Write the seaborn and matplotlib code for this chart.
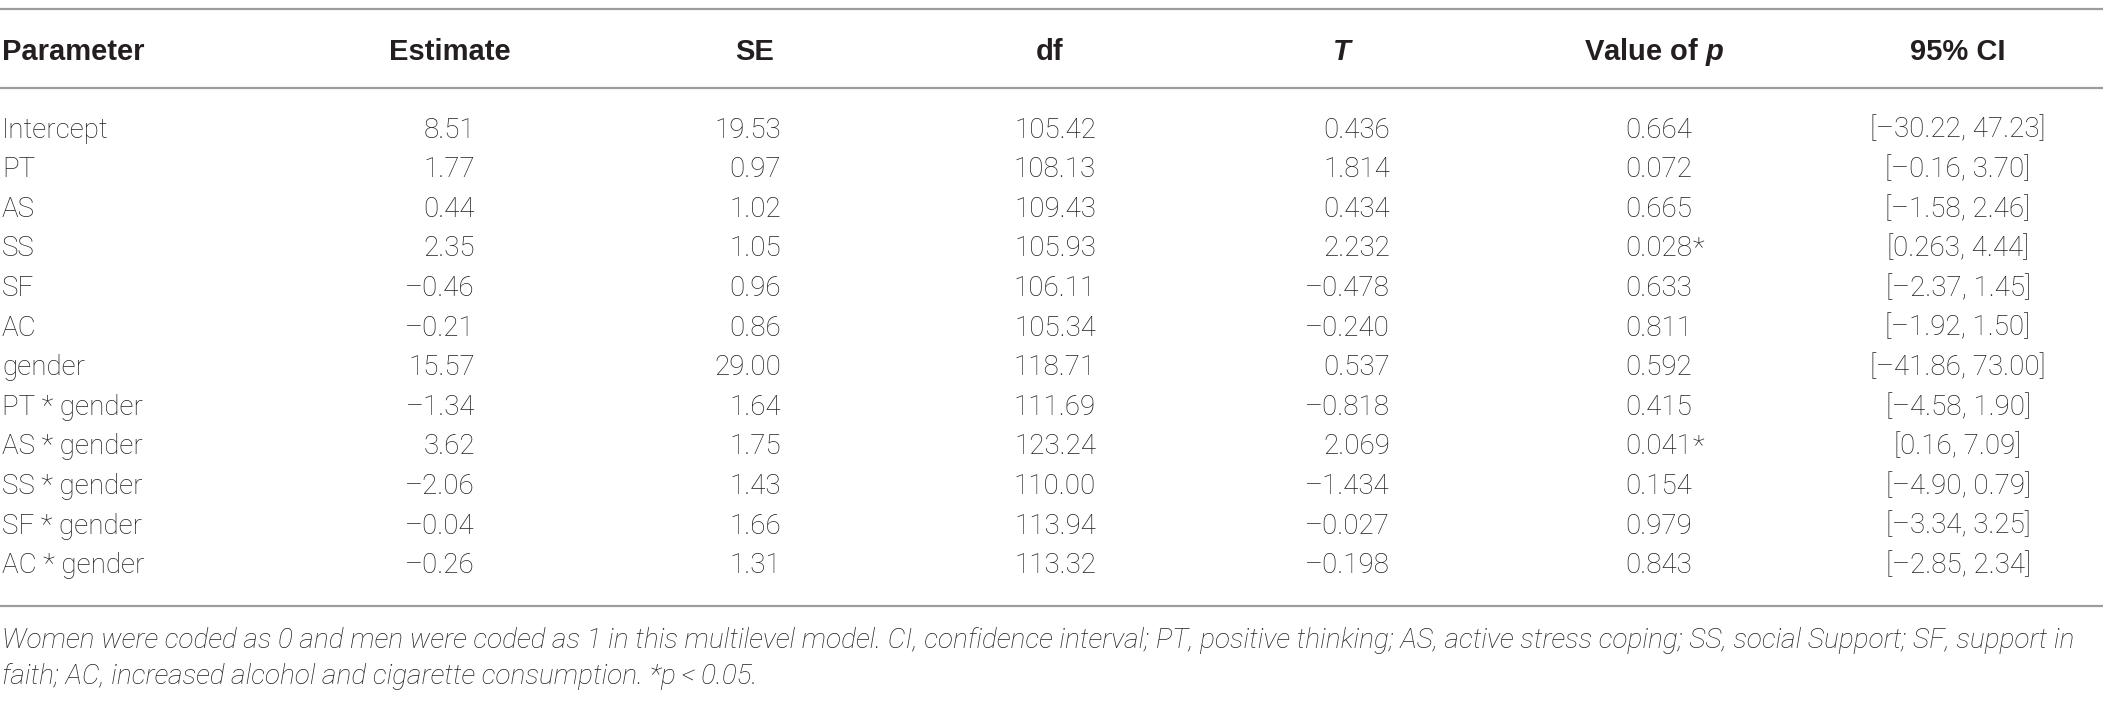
import matplotlib
matplotlib.use("Agg")
import matplotlib.pyplot as plt
import seaborn as sns

# table content
columns = ["Parameter", "Estimate", "SE", "df", "$T$", "Value of $p$", "95% CI"]
params = ["Intercept", "PT", "AS", "SS", "SF", "AC", "gender",
          "PT * gender", "AS * gender", "SS * gender", "SF * gender", "AC * gender"]
estimate = [8.51, 1.77, 0.44, 2.35, -0.46, -0.21, 15.57, -1.34, 3.62, -2.06, -0.04, -0.26]
se = [19.53, 0.97, 1.02, 1.05, 0.96, 0.86, 29.00, 1.64, 1.75, 1.43, 1.66, 1.31]
dfree = [105.42, 108.13, 109.43, 105.93, 106.11, 105.34, 118.71, 111.69, 123.24, 110.00, 113.94, 113.32]
t_val = [0.436, 1.814, 0.434, 2.232, -0.478, -0.240, 0.537, -0.818, 2.069, -1.434, -0.027, -0.198]
p_val = [0.664, 0.072, 0.665, 0.028, 0.633, 0.811, 0.592, 0.415, 0.041, 0.154, 0.979, 0.843]
ci = ["[–30.22, 47.23]", "[–0.16, 3.70]", "[–1.58, 2.46]", "[0.263, 4.44]",
      "[–2.37, 1.45]", "[–1.92, 1.50]", "[–41.86, 73.00]", "[–4.58, 1.90]",
      "[0.16, 7.09]", "[–4.90, 0.79]", "[–3.34, 3.25]", "[–2.85, 2.34]"]

note = ["Women were coded as 0 and men were coded as 1 in this multilevel model. CI, confidence interval; "
        "PT, positive thinking; AS, active stress coping; SS, social Support; SF, support in",
        "faith; AC, increased alcohol and cigarette consumption. *p\u2009<\u20090.05."]

sns.set_theme(style="white")
plt.rcParams["font.family"] = ["Roboto", "DejaVu Sans"]
plt.rcParams["mathtext.fontset"] = "custom"
plt.rcParams["mathtext.it"] = "Liberation Sans:bold:italic"

W, H = 2103, 705
fig = plt.figure(figsize=(W / 100, H / 100), dpi=100)
ax = fig.add_axes([0, 0, 1, 1])
ax.set_xlim(0, W)
ax.set_ylim(H, 0)
ax.axis("off")

def fmt(v, nd):
    s = f"{abs(v):.{nd}f}"
    return ("–" + s) if v < 0 else s

ink = "#231f20"
rule = "#9c9c9c"
body = dict(fontsize=20, fontweight="light", color=ink, va="center")
head = dict(fontsize=21, fontweight="bold", color=ink, va="center", family="Liberation Sans")

# header row
head_y = 52
head_x = [2, 450, 755, 1050, 1343, 1654, 1958]
for i, (x, s) in enumerate(zip(head_x, columns)):
    ax.text(x, head_y, s, ha="left" if i == 0 else "center", **head)

# rules
for y in [9, 88, 606]:
    ax.axhline(y, color=rule, lw=1.6)

# body rows
row0, step = 130, 39.6
right_x = [475, 781, 1096, 1390, 1692]
for r, name in enumerate(params):
    y = row0 + r * step
    ax.text(2, y, name, ha="left", **body)
    cells = [fmt(estimate[r], 2), fmt(se[r], 2), fmt(dfree[r], 2),
             fmt(t_val[r], 3), fmt(p_val[r], 3)]
    for x, s in zip(right_x, cells):
        ax.text(x, y, s, ha="right", **body)
    if p_val[r] < 0.05:
        ax.text(right_x[4] + 1, y, "*", ha="left", **body)
    ax.text(head_x[6], y, ci[r], ha="center", **body)

# footnote
for k, line in enumerate(note):
    ax.text(2, 640 + k * 36, line, ha="left", fontsize=20.2, fontweight="light",
            style="italic", color=ink, va="center")

fig.savefig("out.png", dpi=100)
